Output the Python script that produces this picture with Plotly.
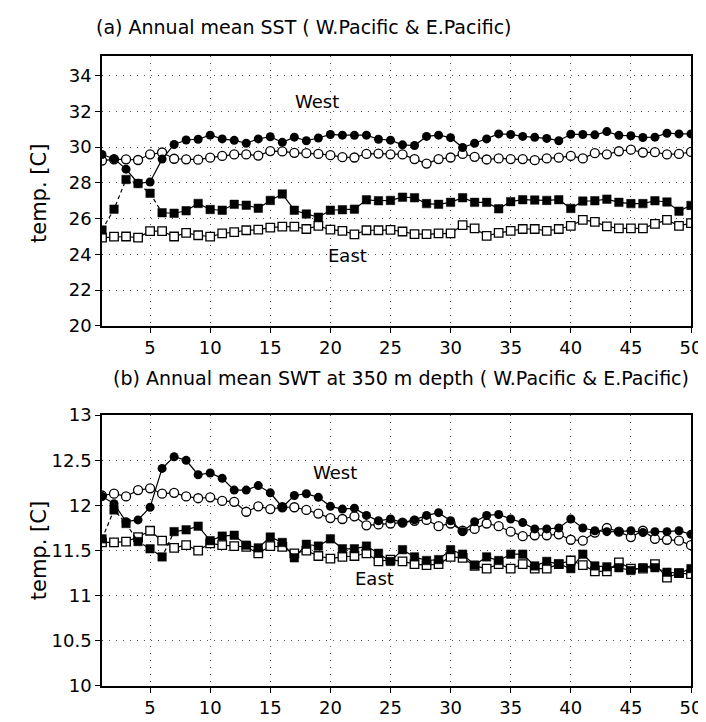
import plotly.graph_objects as go

years = list(range(1, 51))

# ---- Panel (a): Annual mean SST ----
a_west_filled = [29.59, 29.35, 28.77, 27.98, 28.05, 29.33, 30.15, 30.40, 30.44, 30.67,
                 30.46, 30.38, 30.22, 30.46, 30.58, 30.27, 30.56, 30.36, 30.51, 30.71,
                 30.67, 30.66, 30.67, 30.44, 30.39, 30.13, 30.09, 30.60, 30.67, 30.53,
                 29.98, 30.22, 30.46, 30.74, 30.71, 30.60, 30.55, 30.49, 30.36, 30.72,
                 30.71, 30.69, 30.87, 30.66, 30.64, 30.54, 30.56, 30.78, 30.74, 30.74]
a_west_open = [29.25, 29.32, 29.32, 29.28, 29.60, 29.70, 29.35, 29.32, 29.30, 29.41,
               29.51, 29.59, 29.59, 29.53, 29.78, 29.76, 29.68, 29.66, 29.62, 29.55,
               29.44, 29.42, 29.62, 29.64, 29.60, 29.59, 29.33, 29.08, 29.33, 29.42,
               29.62, 29.46, 29.31, 29.37, 29.33, 29.33, 29.27, 29.37, 29.41, 29.51,
               29.37, 29.66, 29.60, 29.77, 29.86, 29.70, 29.72, 29.59, 29.62, 29.73]
a_east_filled = [25.36, 26.53, 28.19, 27.96, 27.42, 26.33, 26.30, 26.44, 26.85, 26.51,
                 26.47, 26.80, 26.75, 26.58, 27.02, 27.38, 26.47, 26.26, 26.08, 26.47,
                 26.50, 26.53, 27.05, 27.00, 27.02, 27.20, 27.17, 26.84, 26.80, 26.91,
                 27.17, 26.91, 26.91, 26.55, 26.95, 27.06, 27.04, 27.02, 27.06, 26.57,
                 26.98, 27.00, 27.09, 26.91, 26.84, 26.84, 27.00, 26.93, 26.42, 26.74]
a_east_open = [24.94, 24.99, 25.00, 24.94, 25.30, 25.30, 25.00, 25.20, 25.07, 24.99,
               25.17, 25.24, 25.35, 25.38, 25.50, 25.55, 25.55, 25.42, 25.59, 25.38,
               25.32, 25.12, 25.35, 25.35, 25.37, 25.28, 25.13, 25.13, 25.17, 25.17,
               25.64, 25.46, 25.03, 25.20, 25.31, 25.42, 25.42, 25.31, 25.42, 25.60,
               25.93, 25.82, 25.57, 25.46, 25.46, 25.46, 25.71, 25.93, 25.60, 25.75]
a_dash_n = 6   # spin-up segment of filled-square series drawn dashed

# ---- Panel (b): Annual mean SWT at 350 m ----
b_west_filled = [12.10, 12.02, 11.82, 11.84, 11.98, 12.41, 12.54, 12.50, 12.34, 12.36,
                 12.30, 12.17, 12.17, 12.22, 12.14, 11.98, 12.11, 12.13, 12.09, 11.99,
                 11.96, 11.97, 11.89, 11.83, 11.85, 11.81, 11.84, 11.89, 11.92, 11.83,
                 11.71, 11.82, 11.89, 11.90, 11.85, 11.81, 11.74, 11.74, 11.75, 11.85,
                 11.75, 11.72, 11.71, 11.71, 11.72, 11.70, 11.71, 11.71, 11.72, 11.68]
b_west_open = [12.11, 12.13, 12.10, 12.17, 12.19, 12.13, 12.14, 12.10, 12.08, 12.09,
               12.05, 12.04, 11.93, 11.99, 11.96, 11.98, 11.98, 11.95, 11.91, 11.86,
               11.85, 11.88, 11.78, 11.79, 11.80, 11.81, 11.83, 11.84, 11.77, 11.80,
               11.72, 11.74, 11.80, 11.77, 11.71, 11.66, 11.67, 11.67, 11.68, 11.62,
               11.61, 11.70, 11.75, 11.71, 11.65, 11.72, 11.63, 11.62, 11.61, 11.56]
b_east_filled = [11.63, 11.95, 11.80, 11.60, 11.52, 11.43, 11.71, 11.73, 11.77, 11.61,
                 11.66, 11.67, 11.56, 11.53, 11.65, 11.59, 11.42, 11.57, 11.55, 11.63,
                 11.52, 11.52, 11.55, 11.47, 11.38, 11.51, 11.43, 11.39, 11.40, 11.51,
                 11.46, 11.34, 11.43, 11.39, 11.46, 11.46, 11.33, 11.38, 11.35, 11.30,
                 11.46, 11.33, 11.32, 11.31, 11.28, 11.31, 11.31, 11.26, 11.25, 11.30]
b_east_open = [11.59, 11.59, 11.60, 11.65, 11.72, 11.61, 11.53, 11.56, 11.50, 11.58,
               11.56, 11.55, 11.54, 11.47, 11.55, 11.54, 11.47, 11.50, 11.44, 11.41,
               11.43, 11.44, 11.47, 11.38, 11.40, 11.38, 11.35, 11.34, 11.35, 11.43,
               11.42, 11.33, 11.30, 11.35, 11.30, 11.35, 11.30, 11.30, 11.35, 11.39,
               11.34, 11.27, 11.27, 11.37, 11.30, 11.30, 11.35, 11.20, 11.25, 11.24]
b_dash_n = 7

x_ticks = [5, 10, 15, 20, 25, 30, 35, 40, 45, 50]
a_yticks = [20, 22, 24, 26, 28, 30, 32, 34]
b_yticks = [10, 10.5, 11, 11.5, 12, 12.5, 13]
b_yticklabels = ["10", "10.5", "11", "11.5", "12", "12.5", "13"]

titles = ["(a) Annual mean SST ( W.Pacific & E.Pacific)",
          "(b) Annual mean SWT at 350 m depth ( W.Pacific & E.Pacific)"]

FONT = "DejaVu Sans"
MS = 9
LW = 1.2

fig = go.Figure()


def add_panel(xa, ya, west_f, west_o, east_f, east_o, dash_n):
    # open squares
    fig.add_trace(go.Scatter(x=years, y=east_o, mode="lines+markers", xaxis=xa, yaxis=ya,
                             line=dict(color="black", width=LW),
                             marker=dict(symbol="square", size=MS - 0.5, color="white",
                                         line=dict(color="black", width=1.3))))
    # open circles
    fig.add_trace(go.Scatter(x=years, y=west_o, mode="lines+markers", xaxis=xa, yaxis=ya,
                             line=dict(color="black", width=LW),
                             marker=dict(symbol="circle", size=MS, color="white",
                                         line=dict(color="black", width=1.3))))
    # filled squares: dashed spin-up segment, then solid
    fig.add_trace(go.Scatter(x=years[:dash_n], y=east_f[:dash_n], mode="lines",
                             xaxis=xa, yaxis=ya,
                             line=dict(color="black", width=LW, dash="4px,3px")))
    fig.add_trace(go.Scatter(x=years[dash_n - 1:], y=east_f[dash_n - 1:], mode="lines",
                             xaxis=xa, yaxis=ya, line=dict(color="black", width=LW)))
    fig.add_trace(go.Scatter(x=years, y=east_f, mode="markers", xaxis=xa, yaxis=ya,
                             marker=dict(symbol="square", size=MS - 0.5, color="black",
                                         line=dict(color="black", width=0.5))))
    # filled circles
    fig.add_trace(go.Scatter(x=years, y=west_f, mode="lines+markers", xaxis=xa, yaxis=ya,
                             line=dict(color="black", width=LW),
                             marker=dict(symbol="circle", size=MS, color="black")))


add_panel("x", "y", a_west_filled, a_west_open, a_east_filled, a_east_open, a_dash_n)
add_panel("x2", "y2", b_west_filled, b_west_open, b_east_filled, b_east_open, b_dash_n)

axis_common = dict(showline=True, linecolor="black", linewidth=1.5, mirror=True,
                   ticks="outside", ticklen=5, tickcolor="black", tickwidth=1,
                   showgrid=True, gridcolor="#555", gridwidth=1, griddash="1px,6px",
                   zeroline=False, tickfont=dict(family=FONT, size=18, color="black"))

T, B, L, R = 48, 25, 94, 12
H = 722 - T - B
a_bottom = (722 - B - 326) / H
b_top = (722 - B - 418) / H

fig.update_layout(
    width=706, height=722, showlegend=False,
    paper_bgcolor="white", plot_bgcolor="white",
    margin=dict(l=L, r=R, t=T, b=B),
    xaxis=dict(domain=[0, 1], anchor="y", range=[1, 50], tickvals=x_ticks, **axis_common),
    yaxis=dict(domain=[a_bottom, 1], anchor="x", range=[20, 35.1], tickvals=a_yticks,
               **axis_common),
    xaxis2=dict(domain=[0, 1], anchor="y2", range=[1, 50], tickvals=x_ticks, **axis_common),
    yaxis2=dict(domain=[0, b_top], anchor="x2", range=[10, 13], tickvals=b_yticks,
                ticktext=b_yticklabels, **axis_common),
)

ann_font = dict(family=FONT, size=19, color="black")
fig.add_annotation(text=titles[0], xref="paper", yref="paper",
                   x=(86 - L) / 600, y=(722 - B - 18) / H, xanchor="left", yanchor="middle",
                   showarrow=False, font=ann_font)
fig.add_annotation(text=titles[1], xref="paper", yref="paper",
                   x=(103 - L) / 600, y=(722 - B - 380) / H, xanchor="left", yanchor="middle",
                   showarrow=False, font=ann_font)

for ycen in (190, 558):
    fig.add_annotation(text="temp. [C]", xref="paper", yref="paper",
                       x=(30 - L) / 600, y=(722 - B - ycen) / H, textangle=-90,
                       xanchor="center", yanchor="middle", showarrow=False,
                       font=dict(family=FONT, size=21, color="black"))

lab_font = dict(family=FONT, size=18, color="black")
fig.add_annotation(text="West", x=18.9, y=32.53, xref="x", yref="y", showarrow=False, font=lab_font)
fig.add_annotation(text="East", x=21.4, y=23.96, xref="x", yref="y", showarrow=False, font=lab_font)
fig.add_annotation(text="West", x=20.4, y=12.37, xref="x2", yref="y2", showarrow=False, font=lab_font)
fig.add_annotation(text="East", x=23.7, y=11.19, xref="x2", yref="y2", showarrow=False, font=lab_font)

fig.write_html("out.html")
